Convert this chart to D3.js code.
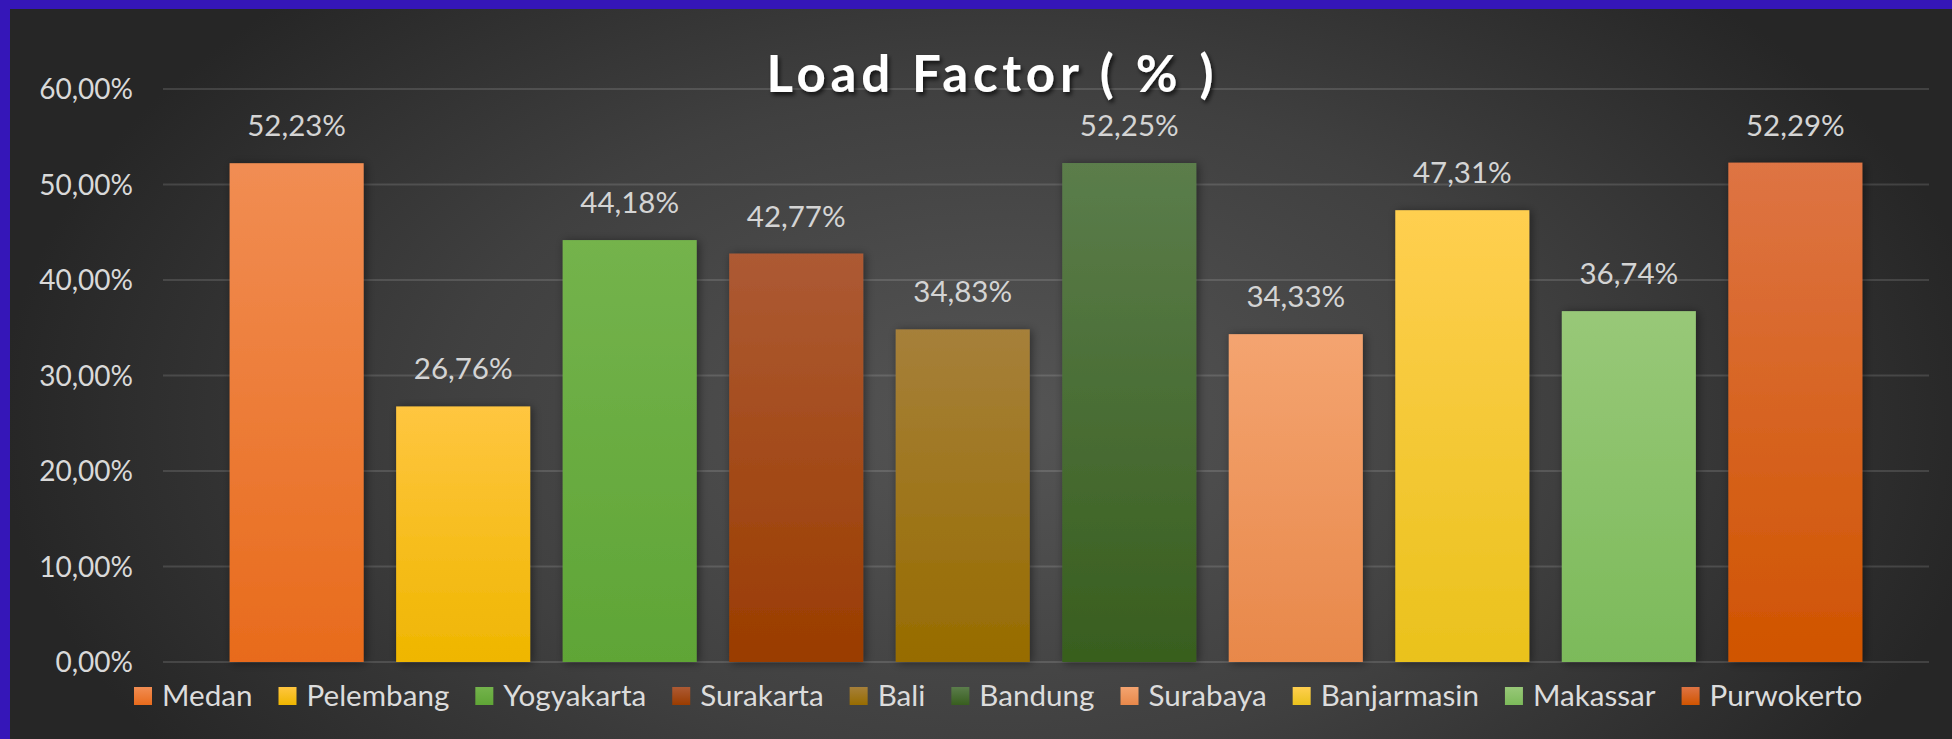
<!DOCTYPE html>
<html lang="en">
<head>
    <meta charset="utf-8">
    <title>Load Factor ( % )</title>
    <style type="text/css">
        body {
            margin: 0;
            background: #3516b8;
        }
        svg {
            display: block;
        }
        .tick-label {
            font-family: Lato, sans-serif;
            font-size: 28px;
            fill: #d9d9d9;
            text-anchor: end;
        }
        .bar-label {
            font-family: Lato, sans-serif;
            font-size: 29.5px;
            fill: #d4d4d4;
            text-anchor: middle;
        }
        .legend-text {
            font-family: Lato, sans-serif;
            font-size: 27px;
            fill: #dcdcdc;
        }
        .title {
            font-family: Lato, sans-serif;
            font-weight: bold;
            font-size: 51px;
            fill: #ffffff;
            text-anchor: middle;
        }
        .grid line {
            stroke: #ffffff;
            stroke-opacity: 0.13;
            stroke-width: 2px;
        }
    </style>
</head>
<body>
<script src="https://cdn.jsdelivr.net/npm/d3@7/dist/d3.min.js"></script>
<script>
    // values
    let cities = ["Medan", "Pelembang", "Yogyakarta", "Surakarta", "Bali",
        "Bandung", "Surabaya", "Banjarmasin", "Makassar", "Purwokerto"];
    let loadFactor = [52.23, 26.76, 44.18, 42.77, 34.83, 52.25, 34.33, 47.31, 36.74, 52.29];
    let yTicks = [0, 10, 20, 30, 40, 50, 60];

    // gradient top / bottom per bar
    let topColors = ["#f18d53", "#ffc640", "#74b34c", "#ad5a34", "#a6803a",
        "#5b7d4b", "#f4a470", "#ffcf50", "#98c878", "#de7444"];
    let bottomColors = ["#e86b1c", "#efb600", "#5fa536", "#9a3c00", "#976c00",
        "#385e1e", "#e8884a", "#eac21c", "#7cba5a", "#d05400"];

    let width = 1952,
        height = 739,
        border = {top: 9, left: 10};

    let plot = {left: 163, right: 1929, top: 89, bottom: 662};

    let svg = d3.select("body").append("svg")
        .attr("width", width)
        .attr("height", height);

    let defs = svg.append("defs");

    let bg = defs.append("radialGradient")
        .attr("id", "bg")
        .attr("gradientUnits", "userSpaceOnUse")
        .attr("cx", 1000).attr("cy", 420).attr("r", 1000)
        .attr("gradientTransform", "translate(1000,420) scale(1,0.6) translate(-1000,-420)");
    bg.append("stop").attr("offset", "0%").attr("stop-color", "#555555");
    bg.append("stop").attr("offset", "55%").attr("stop-color", "#404040");
    bg.append("stop").attr("offset", "100%").attr("stop-color", "#262626");

    cities.forEach(function(c, i) {
        let g = defs.append("linearGradient")
            .attr("id", "bar" + i)
            .attr("x1", 0).attr("y1", 0).attr("x2", 0).attr("y2", 1);
        g.append("stop").attr("offset", "0%").attr("stop-color", topColors[i]);
        g.append("stop").attr("offset", "100%").attr("stop-color", bottomColors[i]);
    });

    let shadow = defs.append("filter").attr("id", "shadow")
        .attr("x", "-20%").attr("y", "-20%").attr("width", "140%").attr("height", "140%");
    shadow.append("feDropShadow")
        .attr("dx", 2).attr("dy", 1).attr("stdDeviation", 5)
        .attr("flood-color", "#000").attr("flood-opacity", 0.45);

    let titleShadow = defs.append("filter").attr("id", "titleShadow");
    titleShadow.append("feDropShadow")
        .attr("dx", 2).attr("dy", 3).attr("stdDeviation", 2)
        .attr("flood-color", "#000").attr("flood-opacity", 0.7);

    // chart area with the blue frame left and top
    svg.append("rect")
        .attr("x", border.left)
        .attr("y", border.top)
        .attr("width", width - border.left)
        .attr("height", height - border.top)
        .attr("fill", "url(#bg)");

    let x = d3.scaleBand()
        .domain(cities)
        .range([plot.left, plot.right])
        .paddingInner(0.195)
        .paddingOuter(0.4);

    let y = d3.scaleLinear()
        .domain([0, 60])
        .range([plot.bottom, plot.top]);

    let locale = d3.formatLocale({decimal: ",", thousands: ".", grouping: [3], currency: ["", ""]});
    let fmt = locale.format(".2f");

    // gridlines
    svg.append("g").attr("class", "grid")
        .selectAll("line")
        .data(yTicks)
        .enter().append("line")
        .attr("x1", plot.left)
        .attr("x2", plot.right)
        .attr("y1", function(d) { return y(d); })
        .attr("y2", function(d) { return y(d); });

    svg.append("g")
        .selectAll("text")
        .data(yTicks)
        .enter().append("text")
        .attr("class", "tick-label")
        .attr("x", 133)
        .attr("y", function(d) { return y(d) + 10; })
        .text(function(d) { return fmt(d) + "%"; });

    let data = cities.map(function(c, i) { return {city: c, value: loadFactor[i], i: i}; });

    svg.append("g")
        .selectAll("rect")
        .data(data)
        .enter().append("rect")
        .attr("x", function(d) { return x(d.city); })
        .attr("y", function(d) { return y(d.value); })
        .attr("width", x.bandwidth())
        .attr("height", function(d) { return y(0) - y(d.value); })
        .attr("fill", function(d) { return "url(#bar" + d.i + ")"; })
        .attr("filter", "url(#shadow)");

    svg.append("g")
        .selectAll("text")
        .data(data)
        .enter().append("text")
        .attr("class", "bar-label")
        .attr("x", function(d) { return x(d.city) + x.bandwidth() / 2; })
        .attr("y", function(d) { return y(d.value) - 27; })
        .text(function(d) { return fmt(d.value) + "%"; });

    svg.append("text")
        .attr("class", "title")
        .attr("x", 990)
        .attr("y", 92)
        .attr("textLength", 447)
        .attr("lengthAdjust", "spacing")
        .attr("filter", "url(#titleShadow)")
        .text("Load Factor ( % )");

    // legend: measure, scale the font to the reference's span (134..1863), then place
    let legend = svg.append("g");
    let items = legend.selectAll("g")
        .data(data)
        .enter().append("g");

    items.append("rect")
        .attr("width", 18)
        .attr("height", 18)
        .attr("y", 687)
        .attr("fill", function(d) { return "url(#bar" + d.i + ")"; });

    let labels = items.append("text")
        .attr("class", "legend-text")
        .attr("x", 28)
        .attr("y", 706)
        .text(function(d) { return d.city; });

    let gap = 26, legendLeft = 134, legendRight = 1863;
    let textSum = 0;
    labels.each(function() { textSum += this.getComputedTextLength(); });
    let fixed = cities.length * 28 + (cities.length - 1) * gap;
    let fontSize = 27 * (legendRight - legendLeft - fixed) / textSum;
    labels.style("font-size", fontSize + "px");

    let pos = legendLeft;
    items.each(function() {
        d3.select(this).attr("transform", "translate(" + pos + ",0)");
        pos += 28 + d3.select(this).select("text").node().getComputedTextLength() + gap;
    });
</script>
</body>
</html>
